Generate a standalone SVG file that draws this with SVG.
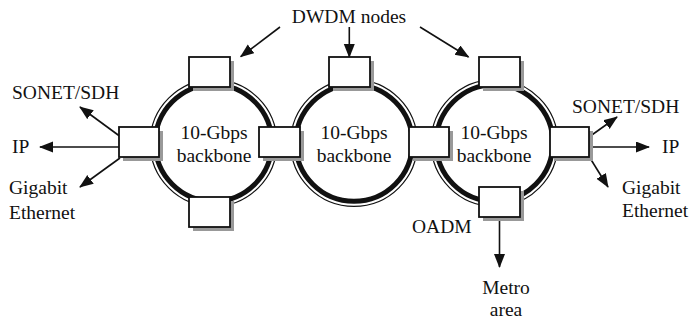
<svg xmlns="http://www.w3.org/2000/svg" width="690" height="320" viewBox="0 0 690 320">
<defs>
<style>
text{font-family:"Liberation Serif","Times New Roman",serif;font-size:19.5px;fill:#111}
.thick{fill:none;stroke:#111;stroke-width:5}
.thin{fill:none;stroke:#111;stroke-width:1.2}
.sh{fill:#999}
.bx{fill:#fff;stroke:#111;stroke-width:1.8}
.ar{fill:none;stroke:#111;stroke-width:1.6;marker-end:url(#ah)}
.c{text-anchor:middle}
</style>
<marker id="ah" markerUnits="userSpaceOnUse" markerWidth="15" markerHeight="12" refX="13" refY="5.5" orient="auto">
<path d="M0,0 L14,5.5 L0,11 Z" fill="#111"/>
</marker>
</defs>
<rect width="690" height="320" fill="#fff"/>
<g id="rings">
<circle class="thick" cx="213.5" cy="143" r="58.3"/><circle class="thin" cx="213.5" cy="143" r="63.4"/>
<circle class="thick" cx="354" cy="143" r="58.3"/><circle class="thin" cx="354" cy="143" r="63.4"/>
<circle class="thick" cx="494.5" cy="143" r="58.3"/><circle class="thin" cx="494.5" cy="143" r="63.4"/>
</g>
<g id="connectors">
<line class="ar" x1="280" y1="27" x2="240.7" y2="56.7"/>
<line class="ar" x1="349.3" y1="27" x2="349.3" y2="57"/>
<line class="ar" x1="420" y1="27" x2="468.5" y2="57"/>
<line class="ar" x1="119.5" y1="136" x2="80" y2="107"/>
<line class="ar" x1="119.5" y1="147" x2="40" y2="147"/>
<line class="ar" x1="120" y1="158" x2="80" y2="187"/>
<line class="ar" x1="589" y1="137" x2="617" y2="117"/>
<line class="ar" x1="589" y1="147" x2="649" y2="147"/>
<line class="ar" x1="590" y1="158" x2="608" y2="187"/>
<line class="ar" x1="499.5" y1="217" x2="499.5" y2="267"/>
</g>
<g id="node-ring1-top"><rect class="sh" x="193" y="61" width="41" height="30"/><rect class="bx" x="189" y="57" width="41" height="30"/></g>
<g id="node-ring1-left"><rect class="sh" x="123" y="131" width="40" height="30"/><rect class="bx" x="119" y="127" width="40" height="30"/></g>
<g id="node-ring1-bottom"><rect class="sh" x="193" y="201" width="41" height="30"/><rect class="bx" x="189" y="197" width="41" height="30"/></g>
<g id="node-ring12"><rect class="sh" x="263" y="131" width="41" height="30"/><rect class="bx" x="259" y="127" width="41" height="30"/></g>
<g id="node-ring2-top"><rect class="sh" x="333" y="61" width="41" height="30"/><rect class="bx" x="329" y="57" width="41" height="30"/></g>
<g id="node-ring23"><rect class="sh" x="413" y="131" width="40" height="30"/><rect class="bx" x="409" y="127" width="40" height="30"/></g>
<g id="node-ring3-top"><rect class="sh" x="483" y="61" width="41" height="30"/><rect class="bx" x="479" y="57" width="41" height="30"/></g>
<g id="node-ring3-right"><rect class="sh" x="554" y="131" width="39" height="30"/><rect class="bx" x="550" y="127" width="39" height="30"/></g>
<g id="node-oadm"><rect class="sh" x="483" y="191" width="41" height="30"/><rect class="bx" x="479" y="187" width="41" height="30"/></g>
<g id="labels">
<text class="c" x="349" y="23">DWDM nodes</text>
<text class="c" x="214" y="139">10-Gbps</text><text class="c" x="214" y="162">backbone</text>
<text class="c" x="354" y="139">10-Gbps</text><text class="c" x="354" y="162">backbone</text>
<text class="c" x="494" y="139">10-Gbps</text><text class="c" x="494" y="162">backbone</text>
<text x="12" y="99">SONET/SDH</text>
<text x="12" y="153">IP</text>
<text x="9" y="194">Gigabit</text>
<text x="9" y="219">Ethernet</text>
<text x="572" y="113">SONET/SDH</text>
<text x="662" y="153">IP</text>
<text x="622" y="194">Gigabit</text>
<text x="622" y="217">Ethernet</text>
<text x="412" y="233">OADM</text>
<text class="c" x="506" y="294">Metro</text>
<text class="c" x="506" y="316">area</text>
</g>
</svg>
